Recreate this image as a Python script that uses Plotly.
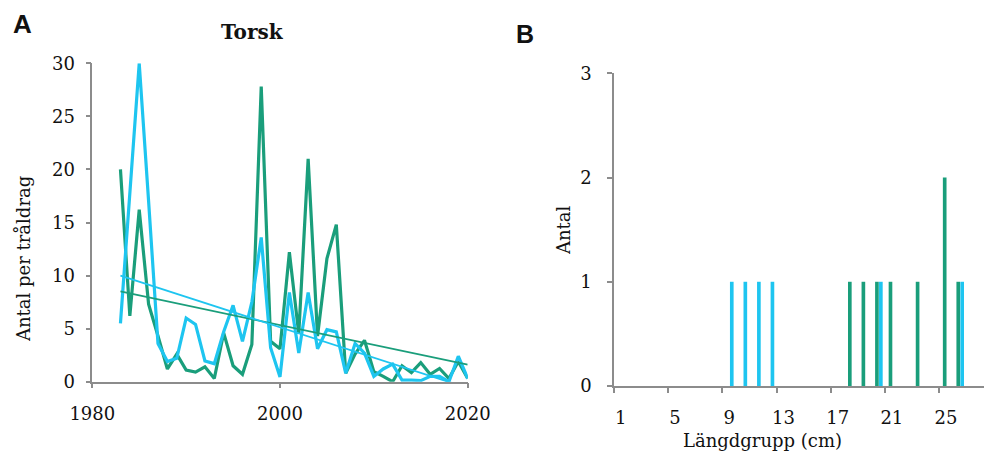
import plotly.graph_objects as go

# ---------------- Data: panel A (Torsk, antal per tråldrag) ----------------
years = list(range(1983, 2021))
green_series = [20.0, 6.2, 16.2, 7.3, 4.3, 1.2, 2.6, 1.1, 0.9, 1.4, 0.3, 4.6, 1.5, 0.7,
                3.5, 27.8, 3.8, 3.1, 12.2, 4.5, 21.0, 4.3, 11.6, 14.8, 0.8, 2.6, 3.9,
                0.95, 0.5, 0.0, 1.5, 0.85, 1.8, 0.7, 1.25, 0.3, 1.9, 0.3]
cyan_series = [5.5, 17.5, 30.0, 17.0, 3.6, 1.9, 2.2, 6.0, 5.4, 1.95, 1.7, 4.7, 7.2, 3.8,
               7.5, 13.6, 3.2, 0.45, 8.4, 2.7, 8.4, 3.1, 4.9, 4.7, 0.8, 3.6, 2.7,
               0.5, 1.2, 1.65, 0.15, 0.15, 0.1, 0.5, 0.5, 0.0, 2.4, 0.3]
trend_years = [1983, 2020]
green_trend = [8.5, 1.6]
cyan_trend = [10.0, -0.6]
a_xticks = [1980, 2000, 2020]
a_yticks = [0, 5, 10, 15, 20, 25, 30]

# ---------------- Data: panel B (längdfördelning) ----------------
green_len = [18, 19, 20, 21, 23, 25, 26]
green_cnt = [1, 1, 1, 1, 1, 2, 1]
cyan_len = [9, 10, 11, 12, 20, 26]
cyan_cnt = [1, 1, 1, 1, 1, 1]
b_xticks = [1, 5, 9, 13, 17, 21, 25]
b_xbounds = [0.5, 4.5, 8.5, 12.5, 16.5, 20.5, 24.5]
b_yticks = [0, 1, 2, 3]

GREEN = "#1a9e7b"
CYAN = "#1ec5f0"
AXIS = "#8c8c8c"
SERIF = "DejaVu Serif"
W, H = 984, 452

fig = go.Figure()
fig.add_trace(go.Scatter(x=years, y=green_series, mode="lines",
                         line=dict(color=GREEN, width=3.2), xaxis="x", yaxis="y"))
fig.add_trace(go.Scatter(x=years, y=cyan_series, mode="lines",
                         line=dict(color=CYAN, width=3.2), xaxis="x", yaxis="y"))
fig.add_trace(go.Scatter(x=trend_years, y=green_trend, mode="lines",
                         line=dict(color=GREEN, width=1.8), xaxis="x", yaxis="y"))
fig.add_trace(go.Scatter(x=trend_years, y=cyan_trend, mode="lines",
                         line=dict(color=CYAN, width=1.8), xaxis="x", yaxis="y"))

fig.add_trace(go.Bar(x=green_len, y=green_cnt, width=0.27, offset=-0.235,
                     marker=dict(color=GREEN, line=dict(width=0)),
                     xaxis="x2", yaxis="y2"))
fig.add_trace(go.Bar(x=cyan_len, y=cyan_cnt, width=0.27, offset=0.055,
                     marker=dict(color=CYAN, line=dict(width=0)),
                     xaxis="x2", yaxis="y2"))

tickfont = dict(family=SERIF, size=18, color="#111111")
axis_common = dict(showline=True, linecolor=AXIS, linewidth=1.5, showgrid=False,
                   zeroline=False, ticklen=5, tickwidth=1.5, automargin=False,
                   tickcolor=AXIS, tickfont=tickfont, fixedrange=True)

fig.update_layout(
    template="none",
    width=W, height=H, margin=dict(l=0, r=0, t=0, b=0, pad=0), autosize=False,
    paper_bgcolor="white", plot_bgcolor="white", showlegend=False,
    barmode="overlay",
    xaxis=dict(domain=[92.3 / W, 467.7 / W], range=[1980, 2020], tickmode="array",
               tickvals=a_xticks, anchor="y", ticks="outside", ticklabelstandoff=10,
               **axis_common),
    yaxis=dict(domain=[1 - 381.7 / H, 1 - 63.3 / H], range=[0, 30], tickmode="array",
               tickvals=a_yticks, anchor="x", ticks="outside", ticklabelstandoff=7,
               **axis_common),
    xaxis2=dict(domain=[614 / W, 1.0], range=[0.5, 27.8], tickmode="array",
                tickvals=b_xticks, anchor="y2", ticks="", ticklabelstandoff=15,
                minor=dict(tickmode="array", tickvals=b_xbounds, ticks="outside",
                           ticklen=5, tickwidth=1.5, tickcolor=AXIS),
                **axis_common),
    yaxis2=dict(domain=[1 - 386 / H, 1 - 73.3 / H], range=[0, 3], tickmode="array",
                tickvals=b_yticks, anchor="x2", ticks="outside", ticklabelstandoff=12,
                **axis_common),
)

ann = []
ann.append(dict(text="<b>A</b>", x=22 / W, y=1 - 24 / H, xref="paper", yref="paper",
                showarrow=False, font=dict(family="Liberation Sans", size=26, color="#111"),
                xanchor="center", yanchor="middle"))
ann.append(dict(text="<b>B</b>", x=525 / W, y=1 - 34 / H, xref="paper", yref="paper",
                showarrow=False, font=dict(family="Liberation Sans", size=25, color="#111"),
                xanchor="center", yanchor="middle"))
ann.append(dict(text="<b>Torsk</b>", x=252 / W, y=1 - 32 / H, xref="paper", yref="paper",
                showarrow=False, font=dict(family=SERIF, size=20, color="#111"),
                xanchor="center", yanchor="middle"))
ann.append(dict(text="Antal per tråldrag", x=23 / W, y=1 - 259 / H, xref="paper",
                yref="paper", showarrow=False, textangle=-90,
                font=dict(family=SERIF, size=18, color="#111"),
                xanchor="center", yanchor="middle"))
ann.append(dict(text="Antal", x=563 / W, y=1 - 230 / H, xref="paper",
                yref="paper", showarrow=False, textangle=-90,
                font=dict(family=SERIF, size=18, color="#111"),
                xanchor="center", yanchor="middle"))
ann.append(dict(text="Längdgrupp (cm)", x=762 / W, y=1 - 440 / H, xref="paper",
                yref="paper", showarrow=False,
                font=dict(family=SERIF, size=18, color="#111"),
                xanchor="center", yanchor="middle"))
fig.update_layout(annotations=ann)

fig.write_html("out.html")
